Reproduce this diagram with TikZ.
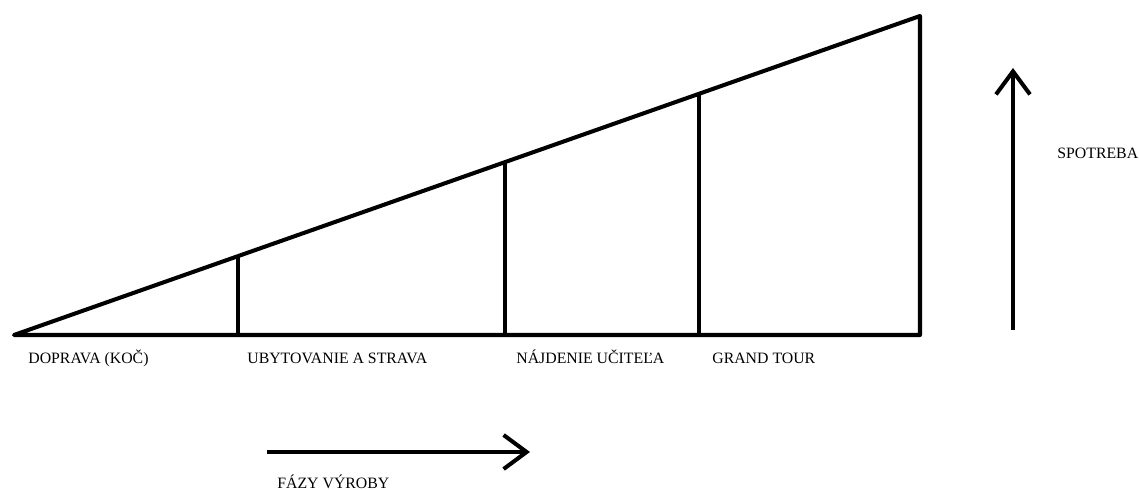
\documentclass[tikz,border=0pt]{standalone}
\usepackage{fontspec}
\setmainfont{Liberation Serif}
\usetikzlibrary{arrows.meta,calc}
\begin{document}
\begin{tikzpicture}[x=0.02cm,y=-0.02cm,
    heavy/.style={line width=2.3pt,line join=round},
    phase/.style={anchor=base west,inner sep=0pt,font=\fontsize{9}{11}\selectfont},
    bigarrow/.style={heavy,-{Straight Barb[length=0.46cm,width=0.68cm,line width=2.3pt]}}]
  \useasboundingbox (0,0) rectangle (1139,490);
  \draw
    (14,335) coordinate (tip)
    (920,335) coordinate (corner)
    (920,16) coordinate (top);
  \draw[heavy] (tip) -- (corner) -- (top) -- cycle;
  \coordinate (t1) at ($(tip)!0.247!(top)$);
  \coordinate (t2) at ($(tip)!0.5424!(top)$);
  \coordinate (t3) at ($(tip)!0.7563!(top)$);
  \begin{scope}[heavy]
    \draw (t1) -- (t1 |- corner);
    \draw (t2) -- (t2 |- corner);
    \draw (t3) -- (t3 |- corner);
  \end{scope}
  \draw
    (28,363) node[phase] (doprava){DOPRAVA (KOČ)}
    (247,363) node[phase] (ubytovanie){UBYTOVANIE A STRAVA}
    (516,363) node[phase] (ucitel){NÁJDENIE UČITEĽA}
    (712,363) node[phase] (grand){GRAND TOUR}
    (1057,158) node[phase] (spotreba){SPOTREBA}
    (277,488) node[phase] (fazy){FÁZY VÝROBY};
  \draw
    (1013,330) coordinate (up0)
    (1013,68) coordinate (up1)
    (267,452) coordinate (right0)
    (530,452) coordinate (right1);
  \draw[bigarrow] (up0) -- (up1);
  \draw[bigarrow] (right0) -- (right1);
\end{tikzpicture}
\end{document}
